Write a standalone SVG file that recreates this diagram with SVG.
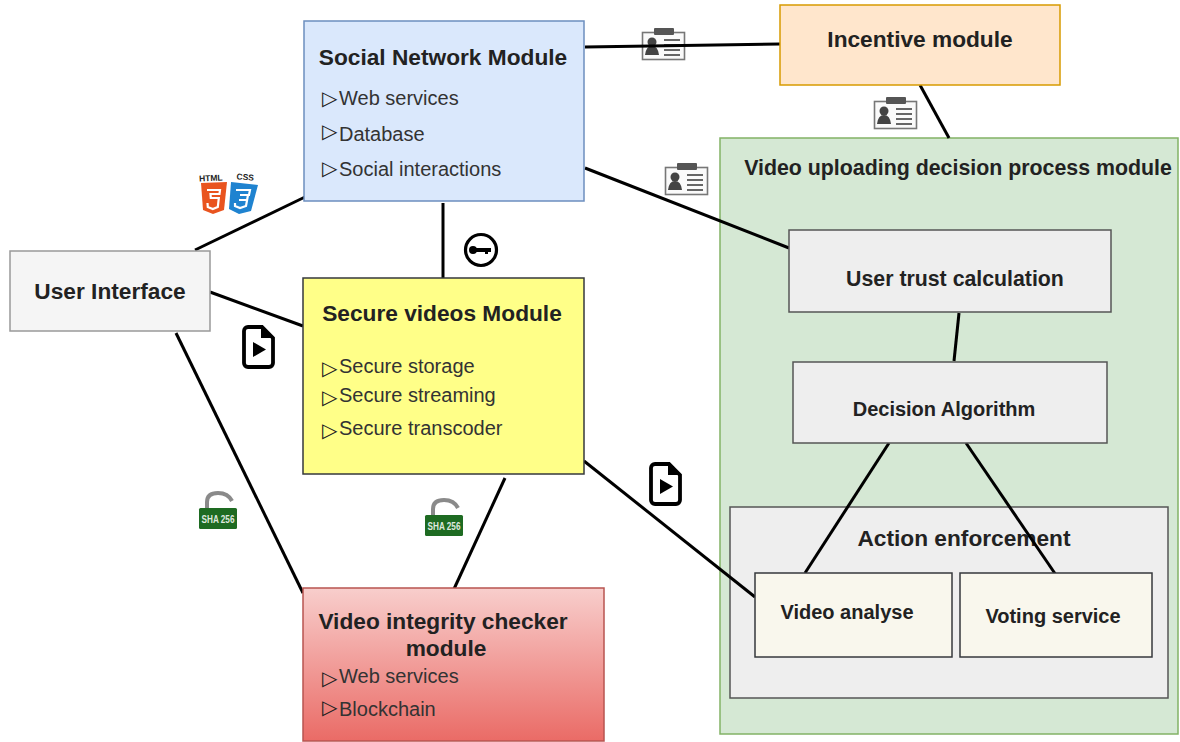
<svg xmlns="http://www.w3.org/2000/svg" width="1180" height="742" viewBox="0 0 1180 742">
<style>
text{font-family:"Liberation Sans",Arial,sans-serif;fill:#222}
.t{font-weight:bold;font-size:22.700px;text-anchor:middle}
.s{font-weight:bold;font-size:20px;text-anchor:middle}
.i{font-size:20px;fill:#333}
.m{font-family:"DejaVu Sans",sans-serif;font-size:20px;fill:#222}
.c line{stroke:#000;stroke-width:3;stroke-linecap:butt}
</style>
<defs>
<linearGradient id="red" x1="0" y1="0" x2="0" y2="1"><stop offset="0" stop-color="#f8cecc"/><stop offset="1" stop-color="#ea6b66"/></linearGradient>
<symbol id="card" viewBox="0 0 46 34" overflow="visible">
<rect x="1.500" y="5.500" width="42" height="27" fill="#fafafa" stroke="#777" stroke-width="1.600"/>
<rect x="13" y="1" width="20" height="7" rx="1" fill="#555"/>
<circle cx="11" cy="15" r="4.500" fill="#444"/>
<path d="M4 28 q1-9 7-9 q6 0 7 9z" fill="#444"/>
<path d="M23 13h16M23 18h16M23 23h16M23 28h16" stroke="#666" stroke-width="1.800"/>
</symbol>
<symbol id="play" viewBox="0 0 34 44" overflow="visible">
<path d="M7 2h14l11 11v25a4 4 0 0 1-4 4H7a4 4 0 0 1-4-4V6a4 4 0 0 1 4-4z" fill="#fff" stroke="#000" stroke-width="3.800"/>
<path d="M20 2v11h12z" fill="#000"/>
<path d="M12 17l13 7.500-13 7.500z" fill="#000"/>
</symbol>
<symbol id="lock" viewBox="0 0 40 40" overflow="visible">
<path d="M9 18v-7q0-9 11-9 10 0 14 8" fill="none" stroke="#8a8a8a" stroke-width="4"/>
<rect x="1" y="17" width="38" height="21" rx="1.500" fill="#1e6b22"/>
<text x="20" y="32" font-size="10" text-anchor="middle" textLength="33" lengthAdjust="spacingAndGlyphs" style="fill:#dfe8df;font-weight:bold">SHA 256</text>
</symbol>
</defs>
<rect width="1180" height="742" fill="#fff"/>
<g id="decision-module">
<rect x="720" y="138" width="458" height="596" fill="#d5e8d4" stroke="#82b366" stroke-width="1.500"/>
<text class="s" x="958" y="175" style="font-size:21.350px">Video uploading decision process module</text>
</g>
<g id="action-enforcement">
<rect x="730" y="507" width="438" height="191" fill="#eeeeee" stroke="#555" stroke-width="1.500"/>
<text class="t" x="964" y="546">Action enforcement</text>
</g>
<use href="#card" x="641" y="27" width="46" height="34"/>
<g class="c" id="connectors">
<line x1="195" y1="250" x2="305" y2="197"/>
<line x1="210" y1="292" x2="303" y2="326"/>
<line x1="176" y1="333" x2="303" y2="593"/>
<line x1="443" y1="203" x2="443" y2="278"/>
<line x1="585" y1="47" x2="780" y2="44"/>
<line x1="920" y1="85" x2="949" y2="138"/>
<line x1="585" y1="168" x2="789" y2="248"/>
<line x1="959" y1="313" x2="954" y2="361"/>
<line x1="889" y1="443" x2="805" y2="573"/>
<line x1="966" y1="443" x2="1056" y2="575"/>
<line x1="584" y1="461" x2="755" y2="597"/>
<line x1="505" y1="478" x2="454" y2="589"/>
</g>
<g id="social-network">
<rect x="304" y="21" width="280" height="180" fill="#dae8fc" stroke="#6c8ebf" stroke-width="1.500"/>
<text class="t" x="443" y="65">Social Network Module</text>
<text class="i" x="322" y="105"><tspan class="m">▷</tspan><tspan x="339">Web services</tspan></text>
<text class="i" x="322" y="141"><tspan class="m" dy="-3">▷</tspan><tspan x="339" dy="3">Database</tspan></text>
<text class="i" x="322" y="176"><tspan class="m" dy="-1">▷</tspan><tspan x="339" dy="1">Social interactions</tspan></text>
</g>
<g id="incentive">
<rect x="780" y="5" width="280" height="80" fill="#ffe6cc" stroke="#d79b00" stroke-width="1.500"/>
<text class="t" x="920" y="47">Incentive module</text>
</g>
<g id="user-interface">
<rect x="10" y="251" width="200" height="80" fill="#f5f5f5" stroke="#999" stroke-width="1.500"/>
<text class="t" x="110" y="299">User Interface</text>
</g>
<g id="secure-videos">
<rect x="303" y="278" width="281" height="196" fill="#ffff88" stroke="#36393d" stroke-width="1.500"/>
<text class="t" x="442" y="321">Secure videos Module</text>
<text class="i" x="322" y="373"><tspan class="m" dy="2">▷</tspan><tspan x="339" dy="-2">Secure storage</tspan></text>
<text class="i" x="322" y="402"><tspan class="m" dy="2">▷</tspan><tspan x="339" dy="-2">Secure streaming</tspan></text>
<text class="i" x="322" y="435"><tspan class="m" dy="2">▷</tspan><tspan x="339" dy="-2">Secure transcoder</tspan></text>
</g>
<g id="integrity-checker">
<rect x="303" y="588" width="301" height="153" fill="url(#red)" stroke="#b85450" stroke-width="1.500"/>
<text class="t" x="443" y="629">Video integrity checker</text>
<text class="t" x="446" y="656">module</text>
<text class="i" x="322" y="683"><tspan class="m" dy="2">▷</tspan><tspan x="339" dy="-2">Web services</tspan></text>
<text class="i" x="322" y="716"><tspan class="m" dy="-2">▷</tspan><tspan x="339" dy="2">Blockchain</tspan></text>
</g>
<g id="user-trust">
<rect x="789" y="230" width="322" height="82" fill="#eeeeee" stroke="#555" stroke-width="1.500"/>
<text class="s" x="955" y="286" style="font-size:21.300px">User trust calculation</text>
</g>
<g id="decision-algorithm">
<rect x="793" y="362" width="314" height="81" fill="#eeeeee" stroke="#555" stroke-width="1.500"/>
<text class="s" x="944" y="416">Decision Algorithm</text>
</g>
<g id="video-analyse">
<rect x="755" y="573" width="197" height="84" fill="#f9f7ed" stroke="#36393d" stroke-width="1.500"/>
<text class="s" x="847" y="619">Video analyse</text>
</g>
<g id="voting-service">
<rect x="960" y="573" width="192" height="84" fill="#f9f7ed" stroke="#36393d" stroke-width="1.500"/>
<text class="s" x="1053" y="623">Voting service</text>
</g>
<use href="#card" x="873" y="96" width="46" height="34"/>
<use href="#card" x="664" y="162" width="46" height="34"/>
<use href="#play" x="241" y="325" width="34" height="44"/>
<use href="#play" x="648" y="462" width="34" height="44"/>
<use href="#lock" x="198" y="491" width="40" height="40"/>
<use href="#lock" x="424" y="498" width="40" height="40"/>
<g id="key-icon">
<circle cx="481" cy="250" r="15.500" fill="#fff" stroke="#000" stroke-width="3.200"/>
<circle cx="473" cy="250" r="4" fill="#000"/>
<path d="M473 248h18v4h-3v2h-3v-2h-12z" fill="#000"/>
</g>
<g id="html-css-icons">
<path d="M201 183l26-1-3 28-11 4-10-4z" fill="#e9541f"/>
<path d="M231 182l27 3-7 26-12 3-10-5z" fill="#1f83d0"/>
<path d="M207 190h13l-.500 4h-9l.300 4h8l-1 9-5 2-5-2-.300-4" fill="none" stroke="#fff" stroke-width="2.200"/>
<path d="M236 190h14l-1 5h-9M248 195l-2 11-6 2-5-2v-3M239 200h8" fill="none" stroke="#fff" stroke-width="2.200"/>
<text x="211" y="181" font-size="8.500" text-anchor="middle" transform="rotate(-3 211 181)" style="font-weight:bold">HTML</text>
<text x="245" y="180" font-size="8.500" text-anchor="middle" transform="rotate(5 245 180)" style="font-weight:bold">CSS</text>
</g>
</svg>
